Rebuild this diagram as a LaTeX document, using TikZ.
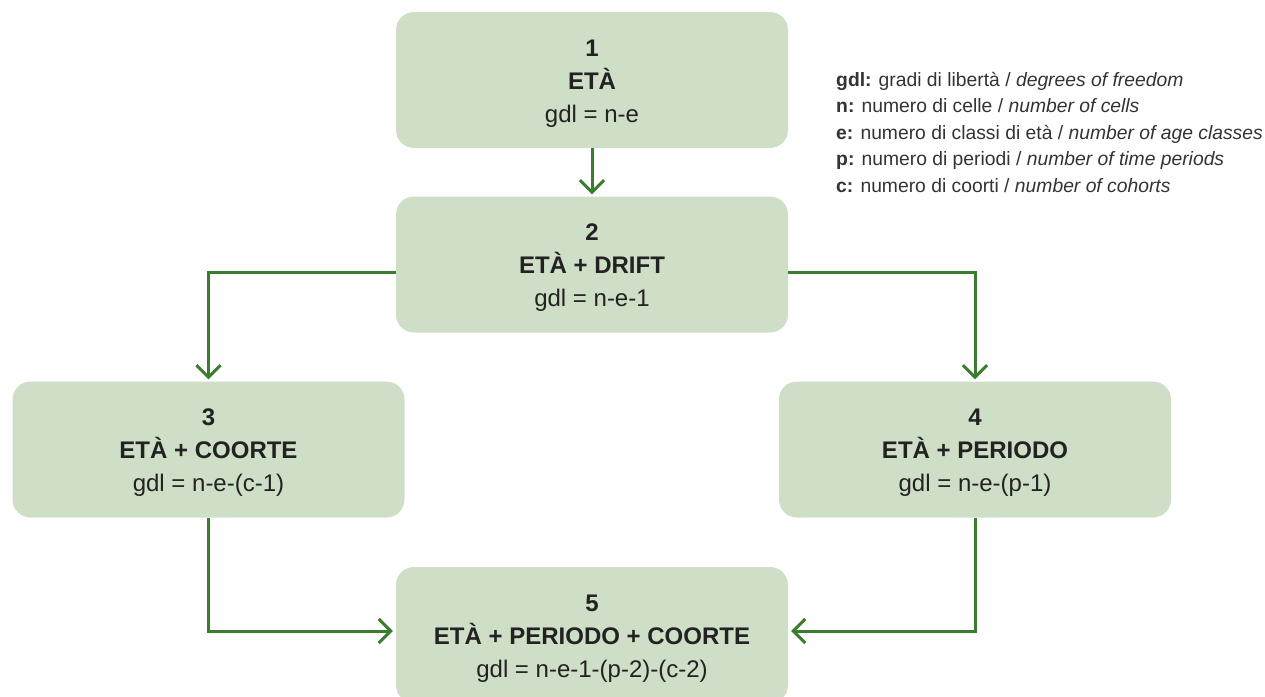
\documentclass[tikz,border=0pt]{standalone}
\usepackage{fontspec}
\setmainfont{Liberation Sans}
\usetikzlibrary{arrows.meta}
\definecolor{boxfill}{HTML}{CFDEC6}
\definecolor{arr}{HTML}{3B7D2E}
\definecolor{txt}{HTML}{222222}
\definecolor{legtxt}{HTML}{333333}
\newcommand{\bxstrut}{\rule{0pt}{23.5pt}}
\begin{document}
\begin{tikzpicture}[x=1pt,y=-1pt,
  box/.style={fill=boxfill, rounded corners=18pt, minimum width=392pt, minimum height=136pt,
    align=center, font=\fontsize{24}{33}\selectfont, text=txt, inner sep=0pt},
  conn/.style={draw=arr, line width=3pt, -{Straight Barb[length=12pt,width=24pt]}},
  leg/.style={anchor=base west, font=\fontsize{19.3}{22}\selectfont, text=legtxt, inner sep=0pt}]
\useasboundingbox (0,0) rectangle (1265,696);
\clip (0,0) rectangle (1265,696);
\node[box] (b1) at (592,80) {\bxstrut\textbf{1}\\\textbf{ETÀ}\\gdl = n-e};
\node[box] (b2) at (592,264.5) {\bxstrut\textbf{2}\\\textbf{ETÀ + DRIFT}\\gdl = n-e-1};
\node[box] (b3) at (208.5,449.5) {\bxstrut\textbf{3}\\\textbf{ETÀ + COORTE}\\gdl = n-e-(c-1)};
\node[box] (b4) at (975,449.5) {\bxstrut\textbf{4}\\\textbf{ETÀ + PERIODO}\\gdl = n-e-(p-1)};
\node[box] (b5) at (592,635) {\bxstrut\textbf{5}\\\textbf{ETÀ + PERIODO + COORTE}\\gdl = n-e-1-(p-2)-(c-2)};
\draw[conn, shorten >=2pt] (b1) -- (b2);
\draw[conn, shorten >=2pt] ([yshift=-7.5pt]b2.west) -| (b3.north);
\draw[conn, shorten >=2pt] ([yshift=-7.5pt]b2.east) -| (b4.north);
\draw[conn, shorten >=3pt] (b3.south) |- ([yshift=4pt]b5.west);
\draw[conn, shorten >=3pt] (b4.south) |- ([yshift=4pt]b5.east);
\node[leg] (l1) at (836,86) {\textbf{gdl:} gradi di libertà / \textit{degrees of freedom}};
\node[leg] (l2) at (836,112) {\textbf{n:} numero di celle / \textit{number of cells}};
\node[leg] (l3) at (836,139) {\textbf{e:} numero di classi di età / \textit{number of age classes}};
\node[leg] (l4) at (836,165) {\textbf{p:} numero di periodi / \textit{number of time periods}};
\node[leg] (l5) at (836,192) {\textbf{c:} numero di coorti / \textit{number of cohorts}};
\end{tikzpicture}
\end{document}
